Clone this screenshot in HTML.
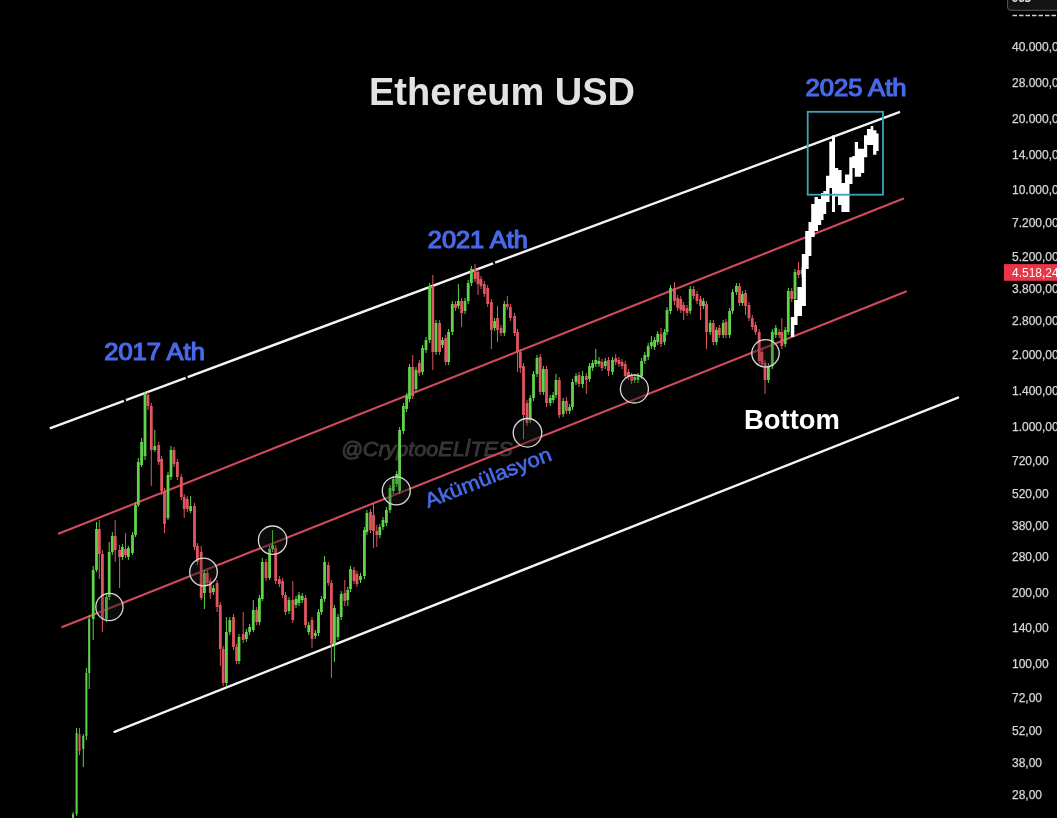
<!DOCTYPE html>
<html><head><meta charset="utf-8"><style>
html,body{margin:0;padding:0;background:#000;}
body{width:1057px;height:818px;overflow:hidden;position:relative;}
svg{position:absolute;left:0;top:0;will-change:transform;}
</style></head><body>
<svg width="1057" height="818" viewBox="0 0 1057 818">
<rect width="1057" height="818" fill="#000"/>
<text x="341" y="455.5" font-family="Liberation Sans, sans-serif" font-size="21" font-weight="normal" font-style="italic" fill="#353535" stroke="#353535" stroke-width="1" textLength="171.5" lengthAdjust="spacingAndGlyphs">@CryptooELİTES</text>
<g id="lines" stroke-linecap="butt">
<line x1="49.8" y1="428.40" x2="123.9" y2="400.81" stroke="#f4f4f4" stroke-width="2.4"/>
<line x1="125.9" y1="400.06" x2="185.7" y2="377.79" stroke="#f4f4f4" stroke-width="2.4"/>
<line x1="187.7" y1="377.05" x2="493.1" y2="263.32" stroke="#f4f4f4" stroke-width="2.4"/>
<line x1="495.1" y1="262.58" x2="900" y2="111.80" stroke="#f4f4f4" stroke-width="2.4"/>
<line x1="59" y1="533.6" x2="903" y2="198.7" stroke="#d24b5b" stroke-width="2.1" stroke-linecap="round"/>
<line x1="62.3" y1="627" x2="906" y2="291.5" stroke="#d24b5b" stroke-width="2.1" stroke-linecap="round"/>
<line x1="114.5" y1="731.8" x2="958" y2="397.6" stroke="#f4f4f4" stroke-width="2.4" stroke-linecap="round"/>
</g>
<g id="circfill">
<circle cx="109.4" cy="607" r="13.6" fill="rgba(40,40,40,0.35)"/>
<circle cx="203.5" cy="572" r="13.8" fill="rgba(40,40,40,0.35)"/>
<circle cx="272.6" cy="540.2" r="14.2" fill="rgba(40,40,40,0.35)"/>
<circle cx="396.3" cy="490.8" r="14" fill="rgba(40,40,40,0.35)"/>
<circle cx="527.5" cy="432.8" r="14.3" fill="rgba(40,40,40,0.35)"/>
<circle cx="634.4" cy="389" r="14" fill="rgba(40,40,40,0.35)"/>
<circle cx="765.5" cy="353.3" r="13.7" fill="rgba(40,40,40,0.35)"/>
</g>
<g id="candles">
<path d="M73.1 812.0V818.0M76.6 728.0V816.0M83.3 734.0V767.0M86.4 668.0V740.0M89.2 615.0V689.0M93.2 566.0V640.0M96.5 522.0V572.0M106.4 594.0V622.0M109.2 542.0V600.0M112.3 532.0V555.0M122.4 544.0V560.0M128.4 546.0V560.0M132.5 532.0V555.0M135.5 502.0V537.0M138.3 458.0V507.0M141.6 438.0V467.0M145.0 392.0V460.0M154.8 430.0V452.0M168.0 472.0V520.0M171.0 446.0V480.0M190.6 496.0V513.0M204.4 570.0V609.0M213.4 585.0V595.0M226.4 617.0V686.0M229.8 617.0V635.0M239.0 634.0V664.0M246.4 629.0V642.0M249.6 624.0V635.0M253.3 600.0V632.0M259.4 595.0V625.0M262.3 558.0V601.0M269.6 546.0V580.0M272.6 530.0V552.0M289.0 597.0V614.0M296.0 596.0V608.0M299.0 592.0V606.0M302.2 593.0V603.0M308.7 622.0V635.0M315.3 630.0V639.0M318.5 609.0V636.0M321.4 596.0V615.0M324.6 556.0V602.0M334.4 605.0V662.0M338.0 614.0V640.0M341.2 591.0V620.0M347.8 587.0V606.0M350.5 566.0V592.0M360.5 573.0V583.0M364.4 527.0V579.0M366.9 510.0V535.0M379.8 524.0V538.0M383.0 517.0V530.0M386.4 507.0V526.0M390.0 485.0V513.0M393.3 476.0V494.0M396.7 471.0V487.0M399.6 427.0V494.0M403.4 403.0V434.0M406.6 393.0V412.0M409.5 364.0V402.0M416.0 367.0V392.0M422.5 345.0V375.0M426.0 337.0V353.0M429.6 283.0V343.0M436.0 320.0V355.0M442.5 337.0V348.0M448.6 329.0V365.0M452.3 301.0V335.0M458.4 284.0V309.0M465.0 298.0V314.0M468.2 280.0V304.0M471.4 266.0V286.0M494.6 318.0V331.0M504.3 301.0V336.0M530.2 395.0V423.0M533.5 371.0V401.0M537.0 355.0V377.0M543.4 366.0V395.0M550.2 395.0V406.0M553.2 392.0V403.0M556.0 374.0V398.0M563.2 398.0V417.0M569.6 404.0V414.0M572.5 379.0V410.0M576.0 373.0V385.0M582.6 371.0V388.0M589.5 363.0V382.0M592.6 360.0V371.0M595.8 349.0V367.0M599.0 357.0V367.0M605.3 358.0V369.0M612.5 357.0V375.0M634.7 374.0V383.0M638.0 373.0V383.0M641.6 358.0V379.0M644.8 352.0V364.0M648.2 343.0V360.0M651.4 336.0V349.0M654.6 337.0V350.0M657.7 331.0V345.0M664.5 329.0V345.0M667.0 307.0V335.0M670.5 285.0V314.0M690.2 286.0V314.0M703.4 298.0V309.0M710.2 320.0V335.0M716.4 327.0V345.0M723.2 320.0V338.0M729.6 308.0V338.0M732.6 289.0V314.0M736.4 283.0V295.0M742.4 291.0V306.0M768.4 363.0V383.0M772.3 329.0V369.0M775.8 325.0V338.0M785.2 327.0V347.0M788.3 288.0V335.0M795.0 269.0V302.0M802.0 267.0V277.0" stroke="#60d24c" stroke-width="1" fill="none"/>
<path d="M79.5 728.0V755.0M99.3 520.0V579.0M102.4 550.0V632.0M115.2 520.0V562.0M119.6 545.0V588.0M125.5 533.0V558.0M148.0 392.0V410.0M151.3 403.0V486.0M158.7 442.0V465.0M161.6 456.0V495.0M164.5 488.0V533.0M174.0 447.0V467.0M177.4 459.0V480.0M181.3 474.0V500.0M184.2 494.0V518.0M187.3 496.0V512.0M194.5 503.0V550.0M197.4 543.0V565.0M201.2 546.0V600.0M207.3 570.0V586.0M210.3 578.0V599.0M217.1 580.0V612.0M220.3 602.0V666.0M223.2 646.0V686.0M233.5 614.0V650.0M236.6 644.0V664.0M243.2 612.0V643.0M256.7 607.0V625.0M266.0 559.0V581.0M275.7 545.0V584.0M279.4 576.0V587.0M282.6 578.0V598.0M285.5 592.0V615.0M292.8 581.0V623.0M305.5 595.0V628.0M312.0 617.0V648.0M328.3 562.0V586.0M331.4 580.0V678.0M344.8 580.0V606.0M354.0 567.0V584.0M357.0 571.0V587.0M370.5 509.0V533.0M373.5 503.0V548.0M376.8 525.0V547.0M412.7 355.0V399.0M419.3 360.0V376.0M432.8 275.0V370.0M439.6 320.0V355.0M445.7 335.0V365.0M455.5 301.0V311.0M461.6 298.0V327.0M475.0 264.0V282.0M478.0 269.0V295.0M481.0 276.0V289.0M484.3 281.0V297.0M487.7 285.0V307.0M491.4 299.0V349.0M497.5 306.0V342.0M501.0 325.0V336.0M507.3 296.0V310.0M510.4 304.0V321.0M514.6 313.0V336.0M517.5 329.0V372.0M520.3 349.0V373.0M523.5 363.0V439.0M527.0 400.0V426.0M540.2 354.0V395.0M546.5 366.0V407.0M559.3 377.0V418.0M566.4 397.0V414.0M579.0 372.0V387.0M586.3 373.0V394.0M602.0 359.0V371.0M608.5 357.0V376.0M615.7 354.0V365.0M618.9 357.0V367.0M622.0 359.0V369.0M625.2 361.0V379.0M628.4 369.0V380.0M631.6 373.0V384.0M661.0 328.0V347.0M674.5 282.0V305.0M677.7 295.0V311.0M680.8 296.0V313.0M683.7 302.0V320.0M687.0 305.0V316.0M693.6 286.0V299.0M697.0 291.0V304.0M700.5 296.0V320.0M706.5 301.0V349.0M713.3 320.0V345.0M719.3 325.0V338.0M726.0 319.0V338.0M739.5 283.0V306.0M745.5 290.0V315.0M749.0 302.0V321.0M752.3 315.0V330.0M755.6 322.0V335.0M759.2 329.0V364.0M762.0 349.0V367.0M765.0 360.0V394.0M779.2 329.0V338.0M781.8 318.0V349.0M791.7 288.0V302.0M798.5 262.0V278.0" stroke="#df5560" stroke-width="1" fill="none"/>
<path d="M72.10 814.0h2.0v4.0h-2.0zM75.60 733.0h2.0v81.0h-2.0zM82.30 736.0h2.0v13.0h-2.0zM85.40 673.0h2.0v63.0h-2.0zM88.20 619.0h2.0v54.0h-2.0zM91.80 570.0h2.8v49.0h-2.8zM95.10 529.0h2.8v41.0h-2.8zM105.00 597.0h2.8v22.0h-2.8zM107.80 552.0h2.8v45.0h-2.8zM110.90 536.0h2.8v16.0h-2.8zM121.00 547.0h2.8v10.0h-2.8zM127.00 548.0h2.8v9.0h-2.8zM131.10 535.0h2.8v18.0h-2.8zM134.10 505.0h2.8v30.0h-2.8zM136.90 462.0h2.8v43.0h-2.8zM140.20 442.0h2.8v23.0h-2.8zM143.60 394.0h2.8v62.0h-2.8zM153.40 446.0h2.8v4.0h-2.8zM166.60 475.0h2.8v43.0h-2.8zM169.60 450.0h2.8v27.0h-2.8zM189.20 506.0h2.8v5.0h-2.8zM203.00 573.0h2.8v20.0h-2.8zM212.00 588.0h2.8v4.0h-2.8zM225.00 632.0h2.8v51.0h-2.8zM228.40 620.0h2.8v12.0h-2.8zM237.60 637.0h2.8v24.0h-2.8zM245.00 632.0h2.8v7.0h-2.8zM248.20 627.0h2.8v5.0h-2.8zM251.90 610.0h2.8v20.0h-2.8zM258.00 598.0h2.8v24.0h-2.8zM260.90 562.0h2.8v37.0h-2.8zM268.20 549.0h2.8v29.0h-2.8zM271.20 545.0h2.8v4.0h-2.8zM287.60 600.0h2.8v11.0h-2.8zM294.60 599.0h2.8v6.0h-2.8zM297.60 595.0h2.8v8.0h-2.8zM300.80 596.0h2.8v4.0h-2.8zM307.30 625.0h2.8v7.0h-2.8zM313.90 633.0h2.8v3.0h-2.8zM317.10 612.0h2.8v21.0h-2.8zM320.00 599.0h2.8v13.0h-2.8zM323.20 562.0h2.8v37.0h-2.8zM333.00 608.0h2.8v36.0h-2.8zM336.60 617.0h2.8v20.0h-2.8zM339.80 594.0h2.8v23.0h-2.8zM346.40 590.0h2.8v10.0h-2.8zM349.10 569.0h2.8v20.0h-2.8zM359.10 576.0h2.8v4.0h-2.8zM363.00 530.0h2.8v46.0h-2.8zM365.50 513.0h2.8v19.0h-2.8zM378.40 527.0h2.8v8.0h-2.8zM381.60 520.0h2.8v7.0h-2.8zM385.00 510.0h2.8v13.0h-2.8zM388.60 488.0h2.8v22.0h-2.8zM391.90 479.0h2.8v12.0h-2.8zM395.30 474.0h2.8v10.0h-2.8zM398.20 430.0h2.8v61.0h-2.8zM402.00 406.0h2.8v25.0h-2.8zM405.20 396.0h2.8v13.0h-2.8zM408.10 367.0h2.8v32.0h-2.8zM414.60 370.0h2.8v19.0h-2.8zM421.10 348.0h2.8v24.0h-2.8zM424.60 340.0h2.8v10.0h-2.8zM428.20 286.0h2.8v54.0h-2.8zM434.60 323.0h2.8v29.0h-2.8zM441.10 340.0h2.8v5.0h-2.8zM447.20 332.0h2.8v30.0h-2.8zM450.90 304.0h2.8v28.0h-2.8zM457.00 301.0h2.8v5.0h-2.8zM463.60 301.0h2.8v10.0h-2.8zM466.80 283.0h2.8v18.0h-2.8zM470.00 269.0h2.8v14.0h-2.8zM493.20 321.0h2.8v7.0h-2.8zM502.90 304.0h2.8v29.0h-2.8zM528.80 398.0h2.8v22.0h-2.8zM532.10 374.0h2.8v24.0h-2.8zM535.60 358.0h2.8v16.0h-2.8zM542.00 369.0h2.8v23.0h-2.8zM548.80 398.0h2.8v5.0h-2.8zM551.80 395.0h2.8v5.0h-2.8zM554.60 380.0h2.8v15.0h-2.8zM561.80 401.0h2.8v13.0h-2.8zM568.20 407.0h2.8v4.0h-2.8zM571.10 382.0h2.8v25.0h-2.8zM574.60 376.0h2.8v6.0h-2.8zM581.20 376.0h2.8v8.0h-2.8zM588.10 366.0h2.8v13.0h-2.8zM591.20 363.0h2.8v5.0h-2.8zM594.40 360.0h2.8v4.0h-2.8zM597.60 361.0h2.8v3.0h-2.8zM603.90 361.0h2.8v5.0h-2.8zM611.10 360.0h2.8v12.0h-2.8zM633.30 377.0h2.8v3.0h-2.8zM636.60 376.0h2.8v4.0h-2.8zM640.20 361.0h2.8v15.0h-2.8zM643.40 355.0h2.8v6.0h-2.8zM646.80 346.0h2.8v11.0h-2.8zM650.00 342.0h2.8v4.0h-2.8zM653.20 340.0h2.8v7.0h-2.8zM656.30 334.0h2.8v8.0h-2.8zM663.10 332.0h2.8v10.0h-2.8zM665.60 310.0h2.8v22.0h-2.8zM669.10 288.0h2.8v23.0h-2.8zM688.80 289.0h2.8v22.0h-2.8zM702.00 301.0h2.8v5.0h-2.8zM708.80 323.0h2.8v9.0h-2.8zM715.00 330.0h2.8v12.0h-2.8zM721.80 323.0h2.8v12.0h-2.8zM728.20 311.0h2.8v24.0h-2.8zM731.20 292.0h2.8v19.0h-2.8zM735.00 286.0h2.8v6.0h-2.8zM741.00 294.0h2.8v9.0h-2.8zM767.00 366.0h2.8v14.0h-2.8zM770.90 332.0h2.8v34.0h-2.8zM774.40 328.0h2.8v7.0h-2.8zM783.80 330.0h2.8v14.0h-2.8zM786.90 291.0h2.8v41.0h-2.8zM793.60 272.0h2.8v27.0h-2.8zM800.60 270.0h2.8v4.0h-2.8z" fill="#60d24c"/>
<path d="M78.50 734.0h2.0v17.0h-2.0zM97.90 529.0h2.8v25.0h-2.8zM101.00 554.0h2.8v65.0h-2.8zM113.80 536.0h2.8v14.0h-2.8zM118.20 550.0h2.8v7.0h-2.8zM124.10 549.0h2.8v6.0h-2.8zM146.60 395.0h2.8v11.0h-2.8zM149.90 406.0h2.8v44.0h-2.8zM157.30 445.0h2.8v17.0h-2.8zM160.20 459.0h2.8v32.0h-2.8zM163.10 491.0h2.8v33.0h-2.8zM172.60 450.0h2.8v14.0h-2.8zM176.00 462.0h2.8v15.0h-2.8zM179.90 477.0h2.8v20.0h-2.8zM182.80 497.0h2.8v12.0h-2.8zM185.90 499.0h2.8v10.0h-2.8zM193.10 506.0h2.8v41.0h-2.8zM196.00 546.0h2.8v16.0h-2.8zM199.80 552.0h2.8v46.0h-2.8zM205.90 573.0h2.8v10.0h-2.8zM208.90 581.0h2.8v12.0h-2.8zM215.70 583.0h2.8v24.0h-2.8zM218.90 605.0h2.8v44.0h-2.8zM221.80 649.0h2.8v34.0h-2.8zM232.10 617.0h2.8v30.0h-2.8zM235.20 647.0h2.8v14.0h-2.8zM241.80 634.0h2.8v6.0h-2.8zM255.30 610.0h2.8v12.0h-2.8zM264.60 562.0h2.8v16.0h-2.8zM274.30 548.0h2.8v33.0h-2.8zM278.00 579.0h2.8v5.0h-2.8zM281.20 581.0h2.8v14.0h-2.8zM284.10 595.0h2.8v17.0h-2.8zM291.40 600.0h2.8v20.0h-2.8zM304.10 598.0h2.8v27.0h-2.8zM310.60 620.0h2.8v19.0h-2.8zM326.90 565.0h2.8v18.0h-2.8zM330.00 583.0h2.8v61.0h-2.8zM343.40 593.0h2.8v8.0h-2.8zM352.60 570.0h2.8v11.0h-2.8zM355.60 574.0h2.8v10.0h-2.8zM369.10 512.0h2.8v18.0h-2.8zM372.10 515.0h2.8v16.0h-2.8zM375.40 531.0h2.8v4.0h-2.8zM411.30 367.0h2.8v29.0h-2.8zM417.90 363.0h2.8v10.0h-2.8zM431.40 286.0h2.8v66.0h-2.8zM438.20 323.0h2.8v29.0h-2.8zM444.30 338.0h2.8v24.0h-2.8zM454.10 304.0h2.8v4.0h-2.8zM460.20 301.0h2.8v12.0h-2.8zM473.60 269.0h2.8v10.0h-2.8zM476.60 272.0h2.8v12.0h-2.8zM479.60 279.0h2.8v7.0h-2.8zM482.90 284.0h2.8v10.0h-2.8zM486.30 288.0h2.8v16.0h-2.8zM490.00 302.0h2.8v28.0h-2.8zM496.10 318.0h2.8v12.0h-2.8zM499.60 328.0h2.8v5.0h-2.8zM505.90 304.0h2.8v3.0h-2.8zM509.00 307.0h2.8v11.0h-2.8zM513.20 316.0h2.8v17.0h-2.8zM516.10 332.0h2.8v20.0h-2.8zM518.90 352.0h2.8v16.0h-2.8zM522.10 366.0h2.8v49.0h-2.8zM525.60 403.0h2.8v20.0h-2.8zM538.80 357.0h2.8v35.0h-2.8zM545.10 369.0h2.8v34.0h-2.8zM557.90 380.0h2.8v35.0h-2.8zM565.00 401.0h2.8v10.0h-2.8zM577.60 375.0h2.8v9.0h-2.8zM584.90 376.0h2.8v4.0h-2.8zM600.60 362.0h2.8v6.0h-2.8zM607.10 360.0h2.8v11.0h-2.8zM614.30 358.0h2.8v4.0h-2.8zM617.50 360.0h2.8v4.0h-2.8zM620.60 362.0h2.8v4.0h-2.8zM623.80 364.0h2.8v12.0h-2.8zM627.00 372.0h2.8v5.0h-2.8zM630.20 376.0h2.8v5.0h-2.8zM659.60 334.0h2.8v10.0h-2.8zM673.10 288.0h2.8v13.0h-2.8zM676.30 298.0h2.8v10.0h-2.8zM679.40 299.0h2.8v11.0h-2.8zM682.30 305.0h2.8v6.0h-2.8zM685.60 308.0h2.8v5.0h-2.8zM692.20 289.0h2.8v7.0h-2.8zM695.60 294.0h2.8v7.0h-2.8zM699.10 299.0h2.8v7.0h-2.8zM705.10 304.0h2.8v28.0h-2.8zM711.90 323.0h2.8v19.0h-2.8zM717.90 328.0h2.8v7.0h-2.8zM724.60 322.0h2.8v13.0h-2.8zM738.10 286.0h2.8v17.0h-2.8zM744.10 293.0h2.8v13.0h-2.8zM747.60 305.0h2.8v13.0h-2.8zM750.90 318.0h2.8v9.0h-2.8zM754.20 325.0h2.8v7.0h-2.8zM757.80 332.0h2.8v29.0h-2.8zM760.60 352.0h2.8v12.0h-2.8zM763.60 363.0h2.8v17.0h-2.8zM777.80 332.0h2.8v3.0h-2.8zM780.40 332.0h2.8v14.0h-2.8zM790.30 291.0h2.8v8.0h-2.8zM797.10 270.0h2.8v5.0h-2.8z" fill="#df5560"/>
<path d="M790.8 317.0H794.3V337.0H790.8zM794.1 300.0H797.6V325.0H794.1zM797.4 287.0H802.0V316.0H797.4zM801.8 254.0H805.9V306.0H801.8zM805.2 231.0H808.7V269.0H805.2zM808.5 222.0H811.4V256.0H808.5zM811.2 204.0H814.7V237.0H811.2zM814.5 197.0H818.0V231.0H814.5zM817.8 199.0H821.2V225.0H817.8zM821.0 193.0H823.5V220.0H821.0zM823.3 191.0H826.2V214.0H823.3zM826.0 175.7H829.5V202.0H826.0zM829.3 141.5H832.2V188.0H829.3zM832.0 135.5H835.0V212.0H832.0zM834.8 168.0H838.2V196.6H834.8zM838.0 170.0H841.6V205.0H838.0zM841.4 183.0H845.5V212.0H841.4zM845.0 174.4H849.5V212.0H845.0zM849.3 157.3H852.5V184.0H849.3zM852.3 156.0H855.0V168.0H852.3zM854.8 142.0H858.0V176.8H854.8zM857.8 148.7H861.1V176.8H857.8zM860.9 148.7H864.2V173.0H860.9zM864.0 135.2H867.2V157.3H864.0zM867.0 129.0H870.9V145.0H867.0zM870.7 126.0H873.3V145.0H870.7zM873.1 130.3H876.4V154.8H873.1zM876.2 133.4H878.6V151.0H876.2z" fill="#ffffff"/>
</g>
<g id="circstroke">
<circle cx="109.4" cy="607" r="13.6" fill="rgba(0,0,0,0.18)" stroke="#d8d8d8" stroke-width="1.3"/>
<circle cx="203.5" cy="572" r="13.8" fill="rgba(0,0,0,0.18)" stroke="#d8d8d8" stroke-width="1.3"/>
<circle cx="272.6" cy="540.2" r="14.2" fill="rgba(0,0,0,0.18)" stroke="#d8d8d8" stroke-width="1.3"/>
<circle cx="396.3" cy="490.8" r="14" fill="rgba(0,0,0,0.18)" stroke="#d8d8d8" stroke-width="1.3"/>
<circle cx="527.5" cy="432.8" r="14.3" fill="rgba(0,0,0,0.18)" stroke="#d8d8d8" stroke-width="1.3"/>
<circle cx="634.4" cy="389" r="14" fill="rgba(0,0,0,0.18)" stroke="#d8d8d8" stroke-width="1.3"/>
<circle cx="765.5" cy="353.3" r="13.7" fill="rgba(0,0,0,0.18)" stroke="#d8d8d8" stroke-width="1.3"/>
</g>


<rect x="807.7" y="111.8" width="75.3" height="82.9" fill="none" stroke="#3aa6b6" stroke-width="1.8"/>
<g font-family="Liberation Sans, sans-serif" font-weight="bold">
<text x="369" y="105.4" font-size="38" fill="#e2e2e2">Ethereum USD</text>
<text x="805.5" y="96.3" font-size="23" font-weight="normal" stroke="#4869ea" stroke-width="1.2" fill="#4869ea" textLength="101" lengthAdjust="spacingAndGlyphs">2025 Ath</text>
<text x="427.8" y="247.6" font-size="23" font-weight="normal" stroke="#4869ea" stroke-width="1.2" fill="#4869ea" textLength="100" lengthAdjust="spacingAndGlyphs">2021 Ath</text>
<text x="104.3" y="359.5" font-size="23" font-weight="normal" stroke="#4869ea" stroke-width="1.2" fill="#4869ea" textLength="100.5" lengthAdjust="spacingAndGlyphs">2017 Ath</text>
<text x="744" y="428.8" font-size="27.4" fill="#ffffff">Bottom</text>
<text transform="translate(428,508) rotate(-21.1)" font-size="20.5" font-weight="normal" fill="#456be8" stroke="#456be8" stroke-width="0.6" textLength="134" lengthAdjust="spacingAndGlyphs">Akümülasyon</text>
</g>
<g font-family="Liberation Sans, sans-serif" font-size="12" fill="#d6d6d6" stroke="#d6d6d6" stroke-width="0.25">
<text x="1012" y="50.8">40.000,00</text>
<text x="1012" y="87.3">28.000,00</text>
<text x="1012" y="122.8">20.000,00</text>
<text x="1012" y="159.0">14.000,00</text>
<text x="1012" y="193.9">10.000,00</text>
<text x="1012" y="227.3">7.200,00</text>
<text x="1012" y="261.0">5.200,00</text>
<text x="1012" y="292.6">3.800,00</text>
<text x="1012" y="325.0">2.800,00</text>
<text x="1012" y="358.6">2.000,00</text>
<text x="1012" y="394.6">1.400,00</text>
<text x="1012" y="430.6">1.000,00</text>
<text x="1012" y="464.8">720,00</text>
<text x="1012" y="497.7">520,00</text>
<text x="1012" y="529.5">380,00</text>
<text x="1012" y="561.3">280,00</text>
<text x="1012" y="596.6">200,00</text>
<text x="1012" y="632.3">140,00</text>
<text x="1012" y="668.0">100,00</text>
<text x="1012" y="702.3">72,00</text>
<text x="1012" y="735.3">52,00</text>
<text x="1012" y="767.3">38,00</text>
<text x="1012" y="799.3">28,00</text>
</g>
<rect x="1004" y="264.1" width="60" height="16.7" fill="#ea3547"/>
<text x="1012" y="276.5" font-family="Liberation Sans, sans-serif" font-size="12" fill="#ffffff">4.518,24</text>
<line x1="1012.5" y1="15.5" x2="1057" y2="15.5" stroke="#cfcfcf" stroke-width="1.4" stroke-dasharray="4.5 2"/>
<rect x="1007.6" y="-10" width="60" height="20.3" rx="3" fill="#131313" stroke="#5a5a5a" stroke-width="1"/>
<text x="1011.6" y="2" font-family="Liberation Sans, sans-serif" font-size="12" font-weight="bold" fill="#dddddd" textLength="20" lengthAdjust="spacingAndGlyphs">USD</text>
</svg>
</body></html>
